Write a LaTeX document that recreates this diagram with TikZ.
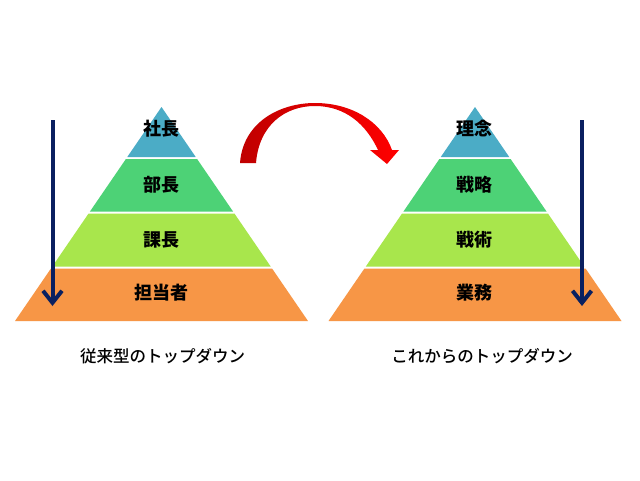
\documentclass[tikz,border=0pt]{standalone}
\usepackage{fontspec}
\setmainfont{Noto Sans CJK JP}
\newfontfamily\capfont{Noto Sans CJK JP Medium}
\usetikzlibrary{arrows.meta}
\definecolor{tiera}{RGB}{75,172,198}
\definecolor{tierb}{RGB}{77,210,118}
\definecolor{tierc}{RGB}{168,230,76}
\definecolor{tierd}{RGB}{247,150,70}
\definecolor{navy}{RGB}{10,32,96}
\begin{document}
\begin{tikzpicture}[x=1pt,y=-1pt,
  lbl/.style={font=\fontsize{18}{20}\selectfont\bfseries, inner sep=0pt},
  captext/.style={font=\capfont\fontsize{16.5}{18}\selectfont, inner sep=0pt},
  tdarrow/.style={draw=navy, line width=4pt, -{Straight Barb[length=12pt,width=19pt,line width=4pt]}},
  pyramid/.pic={
    \fill[tiera] (0,107) -- (34.23,157) -- (-34.23,157) -- cycle;
    \fill[tierb] (-35.60,159) -- (35.60,159) -- (71.54,211.5) -- (-71.54,211.5) -- cycle;
    \fill[tierc] (-72.91,213.5) -- (72.91,213.5) -- (109.19,266.5) -- (-109.19,266.5) -- cycle;
    \fill[tierd] (-110.56,268.5) -- (110.56,268.5) -- (146.5,321) -- (-146.5,321) -- cycle;
  }]
\useasboundingbox[fill=white] (0,0) rectangle (640,480);

\pic at (161.5,0) {pyramid};
\pic at (475,0) {pyramid};

\node[lbl] (sl) at (161.5,129) {社長};
\node[lbl] (bl) at (161.5,185) {部長};
\node[lbl] (kl) at (161.5,240) {課長};
\node[lbl] (tl) at (161.5,293) {担当者};

\node[lbl] (rr) at (474.5,129) {理念};
\node[lbl] (sr) at (474.5,185) {戦略};
\node[lbl] (jr) at (474.5,240) {戦術};
\node[lbl] (gr) at (474.5,293) {業務};

\node[captext] (capl) at (162.5,356) {従来型のトップダウン};
\node[captext] (capr) at (482,356) {これからのトップダウン};

\coordinate (la) at (52.5,120);
\coordinate (lb) at (52.5,306);
\coordinate (ra) at (582,120);
\coordinate (rb) at (582,306);
\draw[tdarrow] (la) -- (lb);
\draw[tdarrow] (ra) -- (rb);

\shade[left color=red!75!black, right color=red]
  (240,163) .. controls (243,122) and (280,103) .. (315,103)
  .. controls (352,103) and (382,122) .. (392,150)
  -- (399,150) -- (387,164) -- (370,150) -- (378,150)
  .. controls (366,124) and (345,106) .. (315,106)
  .. controls (285,106) and (259,125) .. (256,163) -- cycle;
\end{tikzpicture}
\end{document}
